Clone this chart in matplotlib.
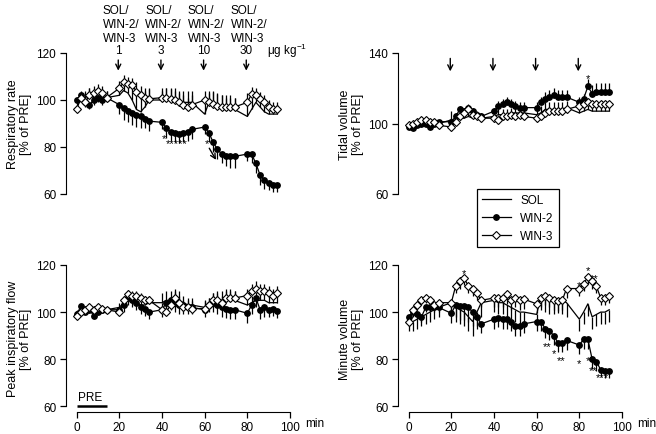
import matplotlib
matplotlib.use('Agg')
import matplotlib.pyplot as plt
from matplotlib.lines import Line2D
import numpy as np

plt.rcParams['font.family'] = ['Liberation Sans', 'DejaVu Sans']
plt.rcParams['font.size'] = 8
plt.rcParams['mathtext.fontset'] = 'custom'
plt.rcParams['mathtext.rm'] = 'Liberation Sans'
plt.rcParams['mathtext.it'] = 'Liberation Sans:italic'

# sampling times (min)
t = [0, 2, 4, 6, 8, 10, 12, 14,
     20, 22, 24, 26, 28, 30, 32, 34,
     40, 42, 44, 46, 48, 50, 52, 54,
     60, 62, 64, 66, 68, 70, 72, 74,
     80, 82, 84, 86, 88, 90, 92, 94]

# respiratory rate
sol_rr = [99, 100, 101, 102, 101, 100, 101, 101,
          102, 104, 103, 100, 96, 95, 97, 100,
          100, 100, 100, 100, 99, 99, 99, 99,
          94, 99, 99, 98, 97, 97, 97, 96,
          93, 96, 99, 97, 95, 94, 94, 94]
sol_rr_err = [2, 2, 3, 3, 3, 3, 3, 3,
              3, 4, 4, 5, 8, 9, 7, 5,
              4, 5, 5, 5, 5, 5, 5, 5,
              5, 4, 5, 5, 5, 5, 5, 5,
              6, 5, 4, 5, 5, 5, 4, 4]
win2_rr = [100, 102, 99, 98, 100, 101, 100, 101,
           98, 96.5, 95.5, 94.5, 93.5, 93, 92, 91,
           90.5, 88, 86.5, 86, 85.5, 86, 86.5, 87.5,
           88.5, 86, 82, 79, 77, 76, 76, 76,
           77, 77, 73, 68, 66, 64.5, 64, 64]
win2_rr_err = [2, 2, 2, 2, 2, 2, 2, 2,
               4, 5, 5, 5, 5, 5, 4, 4,
               3, 4, 4, 4, 4, 4, 4, 4,
               3, 4, 4, 4, 4, 4, 5, 5,
               3, 4, 4, 4, 4, 3, 3, 3]
win3_rr = [96, 101, 99, 102, 103, 104, 103, 101,
           105, 107.5, 107, 106.5, 103.5, 102, 101, 100.5,
           101, 101, 100.5, 100, 99, 98, 97, 98,
           100, 99, 98.5, 97.5, 97, 97, 97, 97,
           99, 102.5, 102, 100.5, 99, 97, 96, 96]
win3_rr_err = [2, 3, 3, 3, 3, 3, 3, 3,
               3, 3, 3, 3, 4, 4, 4, 4,
               4, 4, 4, 4, 4, 4, 4, 4,
               4, 5, 5, 5, 5, 4, 4, 4,
               4, 3, 3, 3, 3, 3, 3, 3]

# tidal volume
sol_tv = [98, 98, 99, 100, 99, 99, 100, 100,
          102, 102, 103, 103, 104, 103, 103, 103,
          104, 105, 105, 105, 106, 106, 106, 106,
          105, 106, 108, 108, 108, 108, 108, 109,
          106, 107, 108, 107, 107, 107, 107, 107]
sol_tv_err = [2, 2, 2, 2, 2, 2, 2, 2,
              5, 3, 3, 3, 3, 3, 3, 3,
              3, 3, 3, 3, 3, 3, 3, 3,
              3, 4, 4, 4, 4, 4, 4, 4,
              4, 4, 4, 4, 4, 4, 4, 4]
win2_tv = [98, 97.5, 99, 100, 100, 98, 100, 101,
           101, 104, 108, 107, 109, 107, 105, 104,
           107, 110, 111, 112, 111, 110, 109, 109,
           109, 112, 114, 115, 116, 115, 115, 115,
           112, 114, 121, 117, 118, 118, 118, 118]
win2_tv_err = [1, 1, 1, 1, 1, 1, 1, 1,
               2, 2, 2, 2, 2, 2, 2, 2,
               2, 3, 3, 3, 3, 3, 3, 3,
               3, 3, 4, 4, 4, 4, 4, 4,
               3, 3, 4, 5, 5, 5, 5, 5]
win3_tv = [99, 100, 101, 102, 102, 101, 101, 99,
           98, 101, 104, 106, 108, 105, 104, 103,
           103, 102, 104, 104, 105, 104, 105, 104,
           103, 104, 106, 107, 107, 107, 107, 108,
           110, 111, 112, 111, 111, 111, 111, 111]
win3_tv_err = [1, 1, 1, 1, 1, 1, 1, 1,
               2, 2, 2, 2, 2, 2, 2, 2,
               2, 2, 2, 2, 2, 2, 2, 2,
               2, 2, 2, 2, 2, 2, 2, 2,
               2, 2, 2, 2, 2, 2, 2, 2]

# peak inspiratory flow
sol_pif = [100, 100, 101, 101, 101, 101, 101, 101,
           102, 104, 106, 105, 104, 103, 103, 104,
           104, 105, 105, 106, 105, 104, 103, 103,
           102, 103, 104, 105, 105, 106, 106, 105,
           103, 104, 105, 105, 105, 104, 104, 104]
sol_pif_err = [1, 1, 1, 1, 1, 1, 1, 1,
               2, 3, 3, 3, 3, 3, 3, 3,
               4, 4, 4, 4, 4, 3, 3, 3,
               3, 3, 4, 4, 4, 4, 4, 4,
               3, 3, 3, 3, 3, 3, 3, 3]
win2_pif = [99, 102.5, 100, 101, 98.5, 100, 101, 101,
            101, 103, 106, 105, 104, 102, 101.5, 100,
            101, 104, 105, 104, 103, 103, 102, 102,
            101, 103, 104, 103, 102, 101.5, 101, 101,
            99.5, 103, 106, 101, 102, 101, 101.5, 100.5]
win2_pif_err = [1, 1, 1, 1, 1, 1, 1, 1,
                2, 3, 3, 3, 3, 3, 3, 3,
                3, 4, 4, 4, 4, 4, 3, 3,
                3, 3, 4, 4, 4, 4, 4, 4,
                4, 4, 4, 4, 4, 3, 3, 3]
win3_pif = [98.5, 100, 101, 102, 101, 102, 101.5, 101,
            100, 105, 107.5, 107, 107, 106, 105, 105,
            101, 100, 103, 106, 104, 102, 102, 101.5,
            101.5, 103, 105, 105, 104, 106, 106, 106,
            107, 109, 110, 109, 109, 108, 107, 108]
win3_pif_err = [1, 1, 1, 1, 1, 1, 1, 1,
                2, 2, 2, 2, 2, 2, 2, 2,
                3, 3, 3, 3, 3, 3, 3, 3,
                3, 3, 3, 3, 3, 3, 3, 3,
                3, 3, 3, 3, 3, 3, 3, 3]

# minute volume
sol_mv = [95, 96, 97, 98, 99, 100, 101, 102,
          104, 102, 101, 100, 98, 96, 100, 104,
          105, 104, 104, 103, 102, 101, 100, 100,
          99, 107, 106, 105, 105, 105.5, 105, 104,
          97, 100, 103.5, 98, 99, 100, 100, 101]
sol_mv_err = [3, 4, 4, 4, 4, 4, 4, 4,
              5, 6, 6, 6, 6, 6, 6, 6,
              5, 5, 5, 5, 5, 5, 5, 5,
              5, 6, 6, 6, 6, 6, 6, 6,
              5, 5, 5, 5, 5, 5, 5, 5]
win2_mv = [98, 100, 99, 98, 102, 102, 102, 102,
           99.5, 103, 102.5, 102.5, 102, 100, 98, 95,
           97, 97.5, 97, 97, 96, 94, 94, 95,
           96, 96, 93, 92, 90, 87, 87, 88,
           86, 88.5, 88.5, 80, 79, 75.5, 75, 75]
win2_mv_err = [2, 2, 2, 2, 2, 2, 2, 2,
               4, 5, 6, 6, 6, 6, 5, 4,
               4, 4, 4, 4, 4, 4, 4, 4,
               4, 4, 4, 4, 4, 4, 4, 4,
               4, 4, 4, 4, 4, 3, 3, 3]
win3_mv = [96, 101, 103, 105, 106, 105, 103, 104,
           104, 111, 113, 114.5, 111, 110, 108, 105,
           106, 106, 106, 107.5, 105, 106, 105, 105.5,
           103.5, 106, 107, 106, 105, 104.5, 105, 110,
           110, 112, 115, 113, 111, 106, 106, 107]
win3_mv_err = [2, 2, 2, 2, 2, 2, 2, 2,
               3, 3, 3, 3, 3, 3, 3, 3,
               4, 4, 4, 4, 4, 4, 4, 4,
               4, 4, 4, 4, 4, 4, 4, 4,
               3, 3, 3, 3, 3, 3, 3, 3]

doses = ['1', '3', '10', '30']
arrow_t = [19.5, 39.5, 59.5, 79.5]

W, H = 656, 435


def box(l, top, r, b):
    return [l / W, 1 - b / H, (r - l) / W, (b - top) / H]


fig = plt.figure(figsize=(W / 100, H / 100), dpi=100)
ax_rr = fig.add_axes(box(66, 54, 290, 195))
ax_tv = fig.add_axes(box(398, 54, 622, 195))
ax_pif = fig.add_axes(box(66, 266, 290, 412.7))
ax_mv = fig.add_axes(box(398, 266, 622, 412.7))

MS_O, MS_D = 3.9, 4.0


def series(ax, y, err, kind, side):
    z = np.zeros(len(err))
    yerr = [z, err] if side == 'up' else [err, z]
    if kind == 'sol':
        st = dict(fmt='-', color='black', lw=0.9, zorder=2)
    elif kind == 'win2':
        st = dict(fmt='-o', color='black', lw=0.9, ms=MS_O, mfc='black', zorder=3)
    else:
        st = dict(fmt='-D', color='black', lw=0.9, ms=MS_D, mfc='white', mew=0.8, zorder=4)
    ax.errorbar(t, y, yerr=yerr, capsize=0, elinewidth=0.9, ecolor='black', **st)


def style(ax, ylim, yticks, label, bottom):
    ax.set_xlim(-5, 100)
    ax.set_ylim(*ylim)
    ax.set_yticks(yticks)
    ax.spines['top'].set_visible(False)
    ax.spines['right'].set_visible(False)
    ax.spines['left'].set_bounds(yticks[0], yticks[-1])
    ax.tick_params(direction='out', length=4, width=0.9, pad=3, labelsize=8.5)
    ax.set_ylabel(label, fontsize=9, linespacing=1.1)
    ax.yaxis.set_label_coords(-0.15, 0.5)
    if bottom:
        ax.set_xticks([0, 20, 40, 60, 80, 100])
        ax.spines['bottom'].set_bounds(0, 100)
        ax.text(107, -0.075, 'min', transform=ax.get_xaxis_transform(),
                va='center', ha='left', fontsize=8.5)
    else:
        ax.spines['bottom'].set_visible(False)
        ax.set_xticks([])


series(ax_rr, sol_rr, sol_rr_err, 'sol', 'up')
series(ax_rr, win2_rr, win2_rr_err, 'win2', 'down')
series(ax_rr, win3_rr, win3_rr_err, 'win3', 'up')
style(ax_rr, (60, 120), [60, 80, 100, 120], 'Respiratory rate\n[% of PRE]', False)

series(ax_tv, sol_tv, sol_tv_err, 'sol', 'up')
series(ax_tv, win2_tv, win2_tv_err, 'win2', 'up')
series(ax_tv, win3_tv, win3_tv_err, 'win3', 'down')
style(ax_tv, (60, 140), [60, 100, 140], 'Tidal volume\n[% of PRE]', False)

series(ax_pif, sol_pif, sol_pif_err, 'sol', 'up')
series(ax_pif, win2_pif, win2_pif_err, 'win2', 'down')
series(ax_pif, win3_pif, win3_pif_err, 'win3', 'up')
style(ax_pif, (57.7, 120), [60, 80, 100, 120], 'Peak inspiratory flow\n[% of PRE]', True)

series(ax_mv, sol_mv, sol_mv_err, 'sol', 'down')
series(ax_mv, win2_mv, win2_mv_err, 'win2', 'down')
series(ax_mv, win3_mv, win3_mv_err, 'win3', 'down')
style(ax_mv, (57.7, 120), [60, 80, 100, 120], 'Minute volume\n[% of PRE]', True)

# injection arrows and dose labels
arr = dict(arrowstyle='->', color='black', lw=1.0, mutation_scale=9)
for xa, d in zip(arrow_t, doses):
    ax_rr.annotate('', xy=(xa, 111.3), xytext=(xa, 118.2), arrowprops=arr,
                   annotation_clip=False)
    ax_tv.annotate('', xy=(xa, 128), xytext=(xa, 138.5), arrowprops=arr,
                   annotation_clip=False)
    ax_rr.text(xa - 7.4, 141.0, 'SOL/\nWIN-2/\nWIN-3', ha='left', va='top',
               fontsize=8.5, linespacing=1.22, clip_on=False)
    ax_rr.text(xa, 121.3, d, ha='center', va='center', fontsize=8.5, clip_on=False)
ax_rr.text(89, 121.3, r'μg kg$^{-1}$', ha='left', va='center', fontsize=8.5, clip_on=False)

# diagonal arrow in respiratory rate
ax_rr.annotate('', xy=(66, 73.5), xytext=(61.5, 80.5), arrowprops=arr)

# significance marks
stars_rr = [(41, 84, '*'), (47, 81.8, '*****'), (61, 81.6, '*')]
stars_tv = [(84, 125.5, '*')]
stars_mv = [(26, 116.5, '*'), (84, 117.8, '*'), (80, 111.5, '*'), (87, 114.5, '**'),
            (65, 85.6, '**'), (68, 82.6, '*'), (71.5, 79.6, '**'), (80, 78.2, '*'),
            (84, 79.8, '*'), (86.5, 75.4, '**'), (91, 72.4, '***')]
for ax, stars in [(ax_rr, stars_rr), (ax_tv, stars_tv), (ax_mv, stars_mv)]:
    for xs, ys, s in stars:
        ax.text(xs, ys, s, ha='center', va='center', fontsize=8, zorder=6)

# PRE bar
ax_pif.plot([0, 14], [60, 60], color='black', lw=1.8, solid_capstyle='butt')
ax_pif.text(0.5, 61.2, 'PRE', ha='left', va='bottom', fontsize=8.5)

handles = [Line2D([], [], color='black', lw=0.9),
           Line2D([], [], color='black', lw=0.9, marker='o', ms=MS_O, mfc='black'),
           Line2D([], [], color='black', lw=0.9, marker='D', ms=MS_D, mfc='white', mew=0.8)]
leg = fig.legend(handles, ['SOL', 'WIN-2', 'WIN-3'], loc='upper left',
                 bbox_to_anchor=(477 / W, 1 - 190 / H), borderaxespad=0,
                 fancybox=False, edgecolor='black', framealpha=1, fontsize=8.5,
                 handlelength=2.4, borderpad=0.45, labelspacing=0.5, handletextpad=0.8)
leg.get_frame().set_linewidth(0.9)

plt.savefig('out.png', dpi=100)
